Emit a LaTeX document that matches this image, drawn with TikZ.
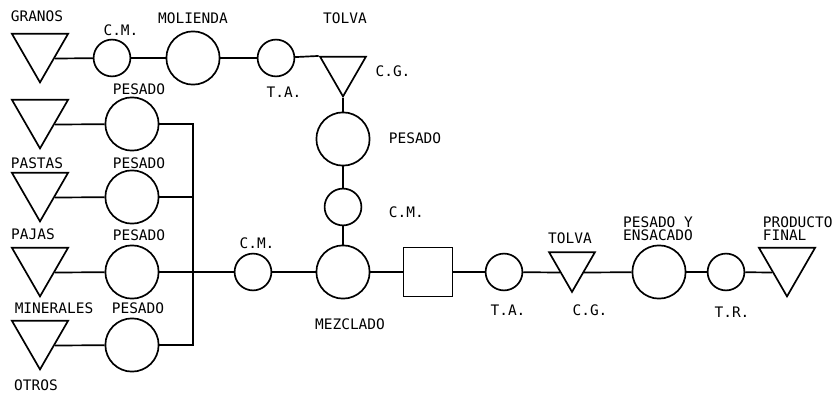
\documentclass[tikz,border=0pt]{standalone}
\usepackage{fontspec}
\newfontfamily\flowfont{DejaVu Sans Mono}
\usetikzlibrary{shapes.geometric}

\begin{document}
\begin{tikzpicture}[
        x=0.025cm, y=-0.025cm,
        line width=1.2pt,
        bigop/.style={circle, draw, minimum size=1.33cm, inner sep=0pt},
        smallop/.style={circle, draw, minimum size=0.92cm, inner sep=0pt},
        bigstore/.style={regular polygon, regular polygon sides=3, shape border rotate=180, draw, minimum size=1.62cm, inner sep=0pt},
        smallstore/.style={regular polygon, regular polygon sides=3, shape border rotate=180, draw, minimum size=1.32cm, inner sep=0pt},
        inspect/.style={rectangle, draw, minimum size=1.22cm, inner sep=0pt},
        tag/.style={font=\flowfont\fontsize{10.3}{9.3}\selectfont, inner sep=0pt}
    ]
    \useasboundingbox (0,0) rectangle (836,394);

    % Grain line
    \node[bigstore] (granos) at (40,50) {};
    \node[smallop] (cm1) at (112,58) {};
    \node[bigop] (molienda) at (193,58) {};
    \node[smallop] (ta1) at (276,58) {};
    \node[smallstore] (tolva1) at (343,70) {};

    % Weighing column
    \node[bigop] (pesv) at (343,139) {};
    \node[smallop] (cmv) at (343,207) {};
    \node[bigop] (mezclado) at (343,272) {};

    % Other ingredients
    \node[bigstore] (src2) at (40,116) {};
    \node[bigstore] (src3) at (40,189) {};
    \node[bigstore] (src4) at (40,264) {};
    \node[bigstore] (src5) at (40,337) {};
    \node[bigop] (pes2) at (132,124) {};
    \node[bigop] (pes3) at (132,197) {};
    \node[bigop] (pes4) at (132,272) {};
    \node[bigop] (pes5) at (132,345) {};
    \coordinate (junc) at (193,272);
    \node[smallop] (cm2) at (253,272) {};

    % Output line
    \node[inspect] (control) at (428,272) {};
    \node[smallop] (ta2) at (504,272) {};
    \node[smallstore] (tolva2) at (572,265.5) {};
    \node[bigop] (pesens) at (659,272) {};
    \node[smallop] (tr) at (726,272) {};
    \node[bigstore] (final) at (787,264) {};

    % Labels
    \node[tag] (granos_t) at (37,16) {GRANOS};
    \node[tag] (cm1_t) at (121,30) {C.M.};
    \node[tag] (molienda_t) at (193,18) {MOLIENDA};
    \node[tag] (tolva1_t) at (345,18) {TOLVA};
    \node[tag] (cg1_t) at (393,71) {C.G.};
    \node[tag] (ta1_t) at (284,92) {T.A.};
    \node[tag] (pes2_t) at (139,89) {PESADO};
    \node[tag] (pastas_t) at (37,163) {PASTAS};
    \node[tag] (pes3_t) at (139,163) {PESADO};
    \node[tag] (pajas_t) at (33,234) {PAJAS};
    \node[tag] (pes4_t) at (139,235) {PESADO};
    \node[tag] (minerales_t) at (54,308) {MINERALES};
    \node[tag] (pes5_t) at (138,308) {PESADO};
    \node[tag] (otros_t) at (36,385) {OTROS};
    \node[tag] (cm2_t) at (257,243) {C.M.};
    \node[tag] (mezclado_t) at (350,324) {MEZCLADO};
    \node[tag, anchor=west] (pesv_t) at (388,138) {PESADO};
    \node[tag, anchor=west] (cmv_t) at (388,212) {C.M.};
    \node[tag] (tolva2_t) at (570,238) {TOLVA};
    \node[tag] (ta2_t) at (508,310) {T.A.};
    \node[tag] (cg2_t) at (590,310) {C.G.};
    \node[tag, align=center] (pesens_t) at (658,229) {PESADO Y\\ENSACADO};
    \node[tag] (tr_t) at (732,312) {T.R.};
    \node[tag, align=left, anchor=west] (final_t) at (762,229) {PRODUCTO\\FINAL};

    % Connections
    \draw (granos.side 1) -- (cm1);
    \draw (cm1) -- (molienda);
    \draw (molienda) -- (ta1);
    \draw (ta1) -- (tolva1.corner 3);
    \draw (tolva1.corner 1) -- (pesv);
    \draw (pesv) -- (cmv);
    \draw (cmv) -- (mezclado);
    \draw (src2.side 1) -- (pes2);
    \draw (src3.side 1) -- (pes3);
    \draw (src4.side 1) -- (pes4);
    \draw (src5.side 1) -- (pes5);
    \draw (pes2) -| (junc) |- (pes5);
    \draw (pes3) -- (pes3 -| junc);
    \draw (pes4) -- (cm2);
    \draw (cm2) -- (mezclado);
    \draw (mezclado) -- (control);
    \draw (control) -- (ta2);
    \draw (ta2) -- (tolva2.side 3);
    \draw (tolva2.side 1) -- (pesens);
    \draw (pesens) -- (tr);
    \draw (tr) -- (final.side 3);

\end{tikzpicture}
\end{document}
